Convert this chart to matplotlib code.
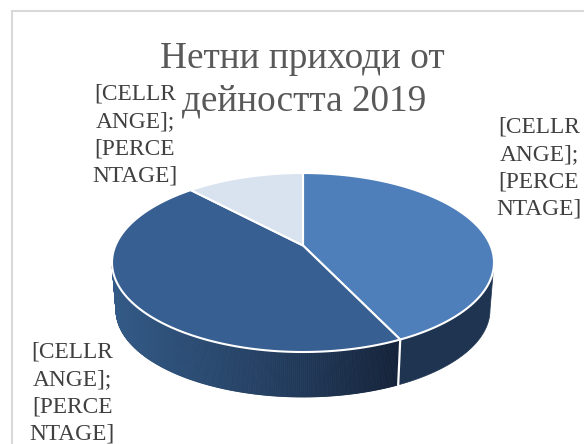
import numpy as np
import matplotlib
matplotlib.use("Agg")
import matplotlib.pyplot as plt
from matplotlib.colors import LinearSegmentedColormap
from matplotlib.patches import Polygon

title_lines = ["Нетни приходи от", "дейността 2019"]
label_text = "[CELLR\nANGE];\n[PERCE\nNTAGE]"
shares = [41.5, 48.5, 10.0]
top_colors = ["#4f7fbb", "#375f91", "#d9e3ef"]

plt.rcParams["font.family"] = ["Liberation Serif", "DejaVu Serif"]

W, H = 584, 444
fig = plt.figure(figsize=(W / 100, H / 100), dpi=100)
ax = fig.add_axes([0, 0, 1, 1])
ax.set_xlim(0, W)
ax.set_ylim(H, 0)
ax.axis("off")

# Perspective pie: rim ellipse, an off-centre apex, and a narrower lower ellipse
cx, cy, rx, ry = 303, 262.5, 191, 89.5
apex = (303, 245.5)
low_cy, low_rx, low_ry = 310, 187, 87


def rim(t):
    return cx + rx * np.sin(t), cy - ry * np.cos(t)


def lower(t):
    return cx + low_rx * np.sin(t), low_cy - low_ry * np.cos(t)


edges = 2 * np.pi * np.concatenate([[0], np.cumsum(shares)]) / np.sum(shares)

# Chart frame, open towards the bottom and right
ax.plot([11.5, 11.5, W], [H, 11.5, 11.5], color="#d9d9d9", lw=1.5, zorder=1,
        solid_joinstyle="miter")

# Wall of the first slice: flat dark shade
t = np.linspace(np.pi / 2, edges[1], 80)
x1, y1 = rim(t)
x2, y2 = lower(t)
ax.add_patch(Polygon(np.r_[np.c_[x1, y1], np.c_[x2, y2][::-1]], fc="#1e3450",
                     ec="#1e3450", lw=0.5, zorder=2))

# Wall of the second slice: shaded from the left edge towards the separator
wall_cmap = LinearSegmentedColormap.from_list(
    "wall", ["#335a86", "#2a4a70", "#203858", "#15233a"])
t = np.linspace(edges[1], 1.5 * np.pi, 300)
x1, y1 = rim(t)
x2, y2 = lower(t)
for i in range(len(t) - 1):
    c = wall_cmap(np.clip((x1[i] - 112) / (399 - 112), 0, 1))
    quad = [(x1[i], y1[i]), (x1[i + 1], y1[i + 1]),
            (x2[i + 1], y2[i + 1]), (x2[i], y2[i])]
    ax.add_patch(Polygon(quad, fc=c, ec=c, lw=0.6, zorder=2))

# Separator on the wall between the two front slices
ex1, ey1 = rim(edges[1])
ex2, ey2 = lower(edges[1])
ax.plot([ex1, ex2], [ey1, ey2], color="white", lw=1.6, zorder=3)

# Top faces
for a, b, c in zip(edges[:-1], edges[1:], top_colors):
    t = np.linspace(a, b, 200)
    x, y = rim(t)
    pts = np.r_[[apex], np.c_[x, y]]
    ax.add_patch(Polygon(pts, fc=c, ec="white", lw=1.5, zorder=4,
                         joinstyle="round"))

ax.text(302, 59, title_lines[0], ha="center", va="center", fontsize=26.8,
        color="#595959", zorder=6)
ax.text(304, 101, title_lines[1], ha="center", va="center", fontsize=26.8,
        color="#595959", zorder=6)

for lx, ly in [(135, 135), (539, 168), (72, 393)]:
    ax.text(lx, ly, label_text, ha="center", va="center", fontsize=16.8,
            color="#404040", linespacing=1.4, zorder=6)

fig.savefig("out.png", dpi=100, facecolor="white")
